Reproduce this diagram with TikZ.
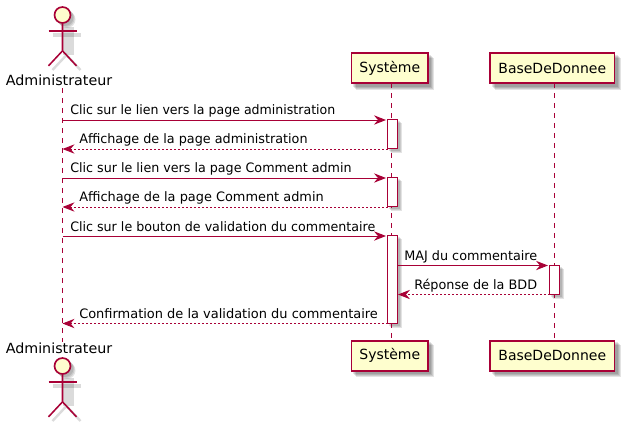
\documentclass[tikz,border=0pt]{standalone}
\usepackage{fontspec}
\setmainfont{DejaVu Sans}
\usetikzlibrary{arrows.meta,backgrounds}
\definecolor{pu}{HTML}{A80036}
\definecolor{puf}{HTML}{FEFECE}
\tikzset{
  partbox/.style={draw=pu,fill=puf,line width=1.25pt,minimum height=22.5pt,inner sep=0pt,font=\fontsize{10.5}{12}\selectfont,text=black},
  actorlabel/.style={font=\fontsize{10.5}{12}\selectfont,text=black,inner sep=0pt},
  actorhead/.style={circle,draw=pu,fill=puf,line width=1.25pt,minimum size=12pt,inner sep=0pt},
  actorline/.style={draw=pu,line width=1.15pt},
  actorshade/.style={draw=black,opacity=.14,line cap=butt},
  life/.style={draw=pu,line width=.75pt,dash pattern=on 3.75pt off 3.75pt},
  bar/.style={draw=pu,fill=white,line width=.85pt,minimum width=7.6pt,inner sep=0pt},
  msg/.style={draw=pu,line width=.75pt,-{Stealth[length=9pt,width=7pt,inset=3pt,fill=pu]}},
  ret/.style={msg,dash pattern=on 1.5pt off 1.5pt},
  lbl/.style={font=\fontsize{9.75}{12}\selectfont,text=black,inner sep=0pt,anchor=base west},
  shade/.style={fill=black,opacity=.11},
}
\newcommand{\hs}[2]{\scalebox{#1}[1]{#2}}
\newcommand{\boxshade}[1]{%
  \begin{pgfonlayer}{background}
    \foreach \d in {2.5,3.5,4.5,5.5}
      \fill[shade] ([shift={(\d,\d)}]#1.south west) rectangle ([shift={(\d,\d)}]#1.north east);
  \end{pgfonlayer}}
\newcommand{\barshade}[1]{%
  \begin{pgfonlayer}{background}
    \foreach \d in {2,3,4}
      \fill[shade] ([shift={(\d,\d)}]#1.south west) rectangle ([shift={(\d,\d)}]#1.north east);
  \end{pgfonlayer}}
\newcommand{\stick}[3]{% head name, x, y of head centre
  \begin{scope}[shift={(#2+4,#3+4)}]
    \draw[actorshade,line width=2.5pt] (-14,16) -- (14,16);
    \draw[actorshade,line width=8pt] (2,8) -- (2,36);
    \draw[actorshade,line width=1.8pt] (-14,51) -- (0,36) -- (14,51);
  \end{scope}
  \node[actorhead] (#1) at (#2,#3) {};
  \begin{pgfonlayer}{background}
    \foreach \d in {2.5,3.5,4.5}
      \fill[shade] ([shift={(\d,\d)}]#1.center) circle[radius=8.5];
  \end{pgfonlayer}
  \draw[actorline] (#1.south) -- ++(0,27) -- ++(-14,15);
  \draw[actorline] (#1.south) ++(0,27) -- ++(14,15);
  \draw[actorline] (#2-14,#3+16) -- (#2+14,#3+16);
}
\begin{document}
\begin{tikzpicture}[x=.75pt,y=-.75pt]
\useasboundingbox (0,0) rectangle (627,422);
\coordinate (atop) at (62.5,88);
\coordinate (abot) at (62.5,342);
\node[partbox,minimum width=57.5pt] (st) at (389.8,68.3) {Système};
\node[partbox,minimum width=93.5pt] (bt) at (552.3,68.3) {BaseDeDonnee};
\node[partbox,minimum width=57.5pt] (sb) at (389.8,355.7) {Système};
\node[partbox,minimum width=93.5pt] (bb) at (552.3,355.7) {BaseDeDonnee};
\boxshade{st}\boxshade{bt}\boxshade{sb}\boxshade{bb}
\coordinate (stl) at (391.5,83.3);
\coordinate (sbl) at (391.5,340.7);
\coordinate (btl) at (554.5,83.3);
\coordinate (bbl) at (554.5,340.7);
\draw[life] (atop) -- (abot);
\draw[life] (stl) -- (sbl);
\draw[life] (btl) -- (bbl);
% actors
\stick{ha}{62.5}{15}
\node[actorlabel,anchor=base] (la) at (59,85) {\hs{1.02}{Administrateur}};
\stick{hb}{62.5}{366}
\node[actorlabel,anchor=base] (lb) at (59,353) {\hs{1.02}{Administrateur}};
% activations
\node[bar,minimum height=21.8pt] (b1) at (392.5,134) {};
\node[bar,minimum height=21.8pt] (b2) at (392.5,192) {};
\node[bar,minimum height=65.8pt] (b3) at (392.5,279.5) {};
\node[bar,minimum height=21.8pt] (b4) at (554.8,279.8) {};
\barshade{b1}\barshade{b2}\barshade{b3}\barshade{b4}
% message ends
\coordinate (a1) at (62.5,120);
\coordinate (a2) at (62.5,149);
\coordinate (a3) at (62.5,178);
\coordinate (a4) at (62.5,207);
\coordinate (a5) at (62.5,236);
\coordinate (a6) at (62.5,323.5);
\coordinate (s1) at (386,120);
\coordinate (s2) at (387.5,149);
\coordinate (s3) at (386,178);
\coordinate (s4) at (387.5,207);
\coordinate (s5) at (386,236);
\coordinate (s6) at (387.5,323.5);
\coordinate (s7) at (397.5,265.5);
\coordinate (s8) at (398,294.5);
\coordinate (d1) at (548,265.5);
\coordinate (d2) at (549.5,294.5);
\draw[msg] (a1) -- (s1);
\draw[ret] (s2) -- (a2);
\draw[msg] (a3) -- (s3);
\draw[ret] (s4) -- (a4);
\draw[msg] (a5) -- (s5);
\draw[msg] (s7) -- (d1);
\draw[ret] (d2) -- (s8);
\draw[ret] (s6) -- (a6);
% labels
\node[lbl] (m1) at (70,114) {\hs{.967}{Clic sur le lien vers la page administration}};
\node[lbl] (m2) at (79,143) {\hs{.983}{Affichage de la page administration}};
\node[lbl] (m3) at (70,172) {\hs{.976}{Clic sur le lien vers la page Comment admin}};
\node[lbl] (m4) at (79,201) {\hs{.992}{Affichage de la page Comment admin}};
\node[lbl] (m5) at (70,231) {\hs{.974}{Clic sur le bouton de validation du commentaire}};
\node[lbl] (m6) at (404,260) {\hs{.985}{MAJ du commentaire}};
\node[lbl] (m7) at (414,289) {\hs{.984}{Réponse de la BDD}};
\node[lbl] (m8) at (79,318) {\hs{.997}{Confirmation de la validation du commentaire}};
\end{tikzpicture}
\end{document}
